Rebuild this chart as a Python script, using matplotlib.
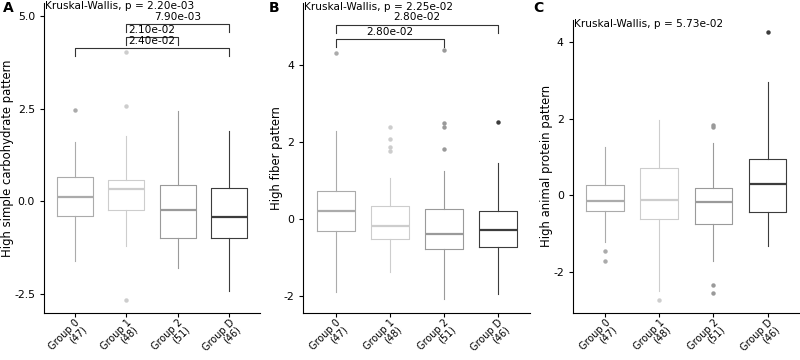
import matplotlib
matplotlib.use('Agg')
import matplotlib.pyplot as plt

# %%
# data

groups = ['Group 0\n(47)', 'Group 1\n(48)', 'Group 2\n(51)', 'Group D\n(46)']
colours = ['#ababab', '#cdcdcd', '#9a9a9a', '#3c3c3c']

# panel A: high simple carbohydrate pattern
a_med = [0.13, 0.33, -0.23, -0.41]
a_q1 = [-0.38, -0.22, -0.98, -0.99]
a_q3 = [0.65, 0.59, 0.45, 0.37]
a_lo = [-1.60, -1.19, -1.78, -2.40]
a_hi = [1.60, 1.76, 2.43, 1.90]
a_out = [[2.47], [2.56, 4.04, -2.65], [], []]
a_kw = 'Kruskal-Wallis, p = 2.20e-03'
# (group i, group j, bar height, label)
a_pairs = [(1, 3, 4.78, '7.90e-03'), (1, 2, 4.43, '2.10e-02'),
           (0, 3, 4.13, '2.40e-02')]

# panel B: high fiber pattern
b_med = [0.20, -0.19, -0.38, -0.29]
b_q1 = [-0.30, -0.53, -0.77, -0.74]
b_q3 = [0.74, 0.35, 0.26, 0.21]
b_lo = [-1.91, -1.38, -2.07, -1.94]
b_hi = [2.28, 1.07, 1.26, 1.46]
b_out = [[4.32], [2.39, 2.08, 1.86, 1.76], [4.40, 2.50, 2.39, 1.82], [2.53]]
b_kw = 'Kruskal-Wallis, p = 2.25e-02'
b_pairs = [(0, 3, 5.05, '2.80e-02'), (0, 2, 4.68, '2.80e-02')]

# panel C: high animal protein pattern
c_med = [-0.14, -0.13, -0.18, 0.29]
c_q1 = [-0.42, -0.62, -0.75, -0.44]
c_q3 = [0.27, 0.71, 0.19, 0.94]
c_lo = [-1.22, -2.50, -1.70, -1.33]
c_hi = [1.25, 1.97, 1.37, 2.94]
c_out = [[-1.45, -1.71], [-2.72], [1.84, 1.78, -2.33, -2.55], [4.25]]
c_kw = 'Kruskal-Wallis, p = 5.73e-02'
c_pairs = []

plt.rcParams['font.family'] = ['DejaVu Sans']

fig = plt.figure(figsize=(8, 3.6), dpi=100)
ax_a = fig.add_axes([0.055, 0.131, 0.27, 0.861])
ax_b = fig.add_axes([0.379, 0.131, 0.284, 0.861])
ax_c = fig.add_axes([0.716, 0.131, 0.284, 0.814])


def draw_panel(ax, med, q1, q3, lo, hi, out, kw, pairs, ylim, yticks,
               yticklabels, ylabel, letter, letter_x, label_x, kw_y, tip):
    for i in range(4):
        st = {'med': med[i], 'q1': q1[i], 'q3': q3[i], 'whislo': lo[i],
              'whishi': hi[i], 'fliers': out[i]}
        c = colours[i]
        ax.bxp([st], positions=[i + 1], widths=0.7, showcaps=False,
               boxprops=dict(color=c, linewidth=0.8),
               whiskerprops=dict(color=c, linewidth=0.8),
               medianprops=dict(color=c, linewidth=1.6),
               flierprops=dict(marker='o', markersize=3.2,
                               markerfacecolor=c, markeredgecolor='none'))
    # pairwise brackets
    for i, j, h, lab in pairs:
        ax.plot([i + 1, i + 1, j + 1, j + 1], [h - tip, h, h, h - tip],
                color='#333333', linewidth=0.8, clip_on=False)
        ax.text((i + j) / 2 + 1, h + tip * 0.3, lab, ha='center',
                va='bottom', fontsize=7.6)
    ax.text(0.42, kw_y, kw, ha='left', va='center', fontsize=7.6)
    ax.set_xlim(0.4, 4.6)
    ax.set_ylim(*ylim)
    ax.set_yticks(yticks)
    ax.set_yticklabels(yticklabels)
    ax.set_xticks([1, 2, 3, 4])
    ax.set_xticklabels(groups, rotation=45, ha='right', va='top',
                       multialignment='right', rotation_mode='anchor',
                       linespacing=0.9)
    ax.tick_params(labelsize=7.8, length=3, width=0.8, colors='black')
    ax.tick_params(axis='x', labelsize=7, pad=0.5)
    ax.set_ylabel(ylabel, fontsize=8.4)
    ax.yaxis.set_label_coords(label_x, 0.5)
    for s in ['top', 'right']:
        ax.spines[s].set_visible(False)
    for s in ['left', 'bottom']:
        ax.spines[s].set_linewidth(0.8)
    fig.text(letter_x, 0.978, letter, fontsize=10,
             fontweight='bold', ha='left', va='center')


draw_panel(ax_a, a_med, a_q1, a_q3, a_lo, a_hi, a_out, a_kw, a_pairs,
           (-3.0, 5.35), [-2.5, 0, 2.5, 5.0], ['-2.5', '0.0', '2.5', '5.0'],
           'High simple carbohydrate pattern', 'A', 0.004, -0.139,
           5.27, 0.21)
draw_panel(ax_b, b_med, b_q1, b_q3, b_lo, b_hi, b_out, b_kw, b_pairs,
           (-2.44, 5.62), [-2, 0, 2, 4], ['-2', '0', '2', '4'],
           'High fiber pattern', 'B', 0.336, -0.088, 5.51, 0.21)
draw_panel(ax_c, c_med, c_q1, c_q3, c_lo, c_hi, c_out, c_kw, c_pairs,
           (-3.06, 4.57), [-2, 0, 2, 4], ['-2', '0', '2', '4'],
           'High animal protein pattern', 'C', 0.666, -0.088, 4.47, 0.21)

fig.savefig('out.png', dpi=100)
